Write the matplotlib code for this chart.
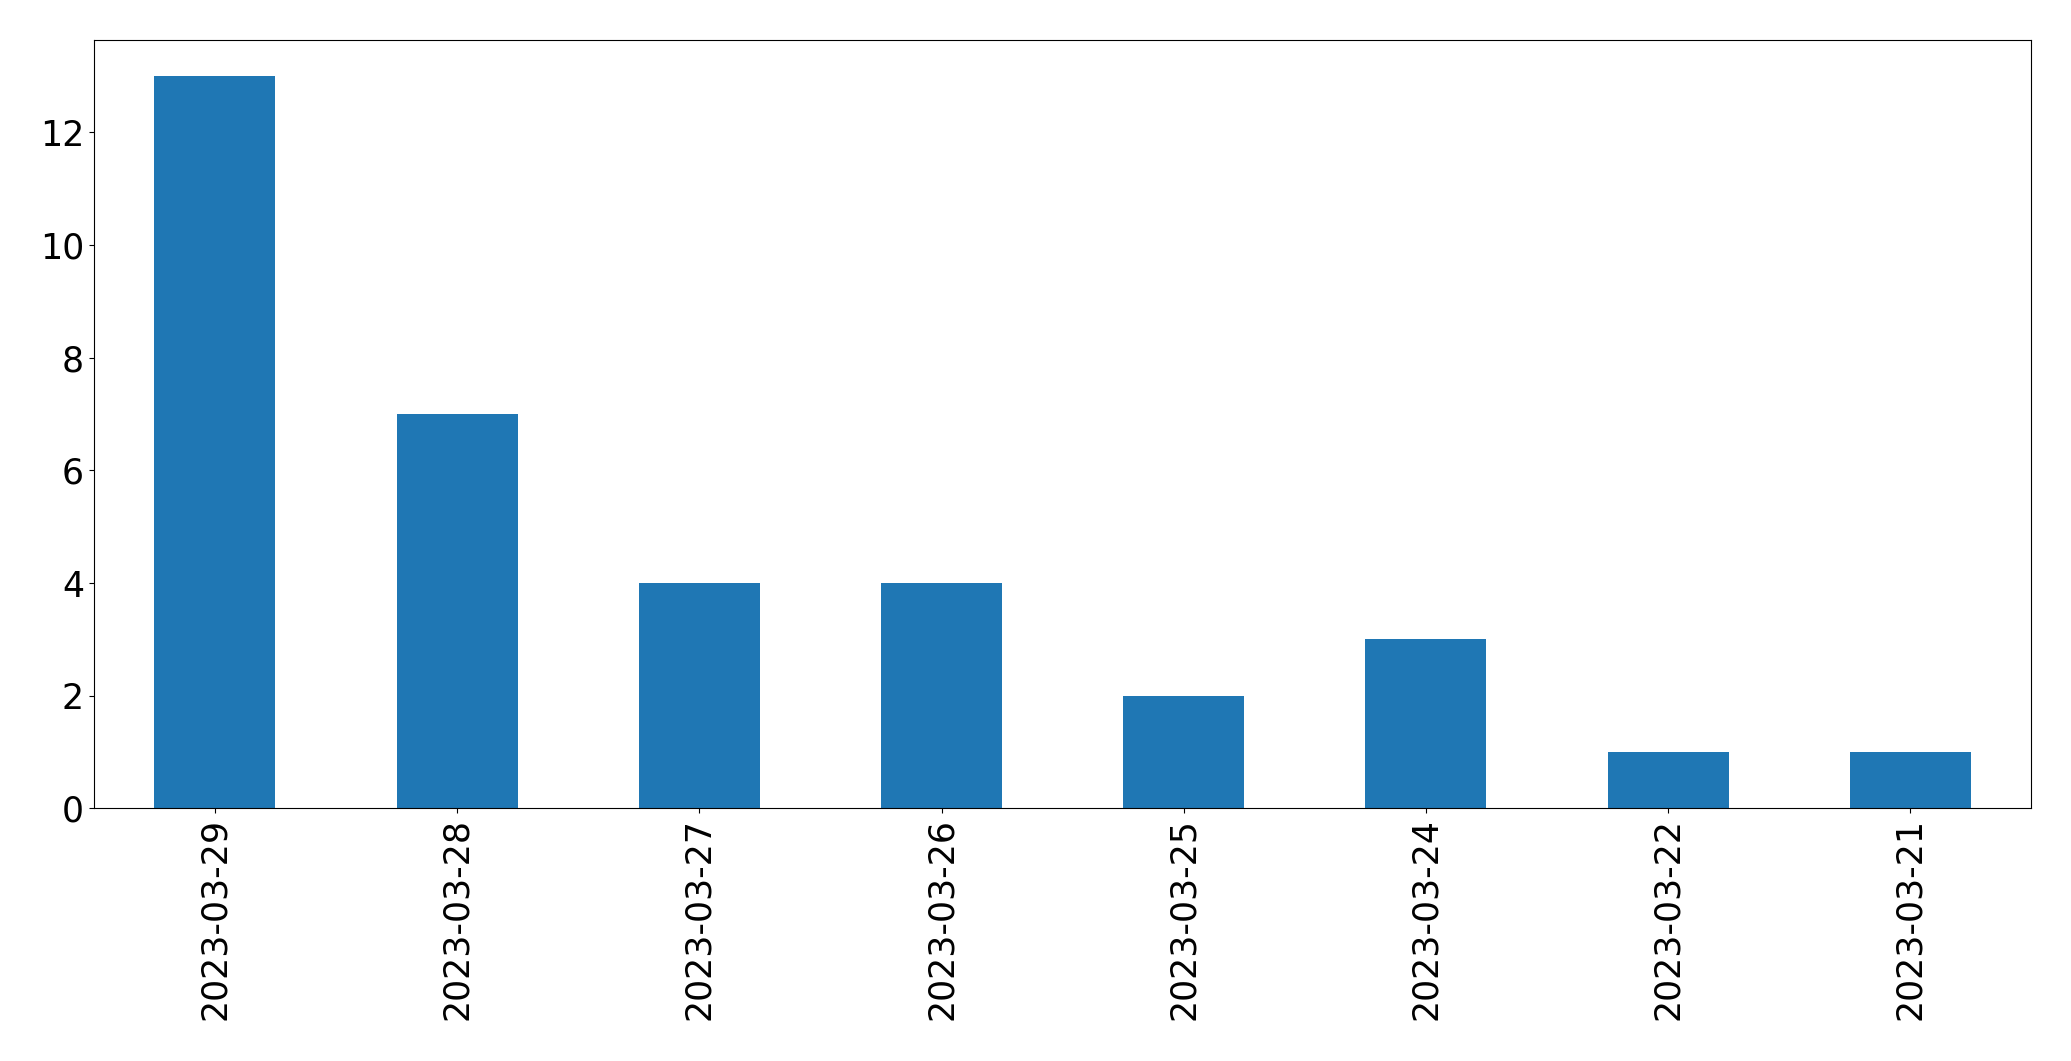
"""Daily counts bar chart."""

import matplotlib

matplotlib.use("Agg")
import matplotlib.pyplot as plt
import pandas as pd

dates = [
    "2023-03-29",
    "2023-03-28",
    "2023-03-27",
    "2023-03-26",
    "2023-03-25",
    "2023-03-24",
    "2023-03-22",
    "2023-03-21",
]
counts = [13, 7, 4, 4, 2, 3, 1, 1]


def plot_counts(save_path="out.png"):
    series = pd.Series(counts, index=dates)
    fig, ax = plt.subplots(figsize=(20.71, 10.61), dpi=100)
    series.plot(kind="bar", ax=ax, color="#1f77b4", fontsize=25)
    fig.subplots_adjust(left=0.0453, right=0.9809, top=0.9627, bottom=0.2382)
    fig.savefig(save_path, dpi=100)


if __name__ == "__main__":
    plot_counts()
